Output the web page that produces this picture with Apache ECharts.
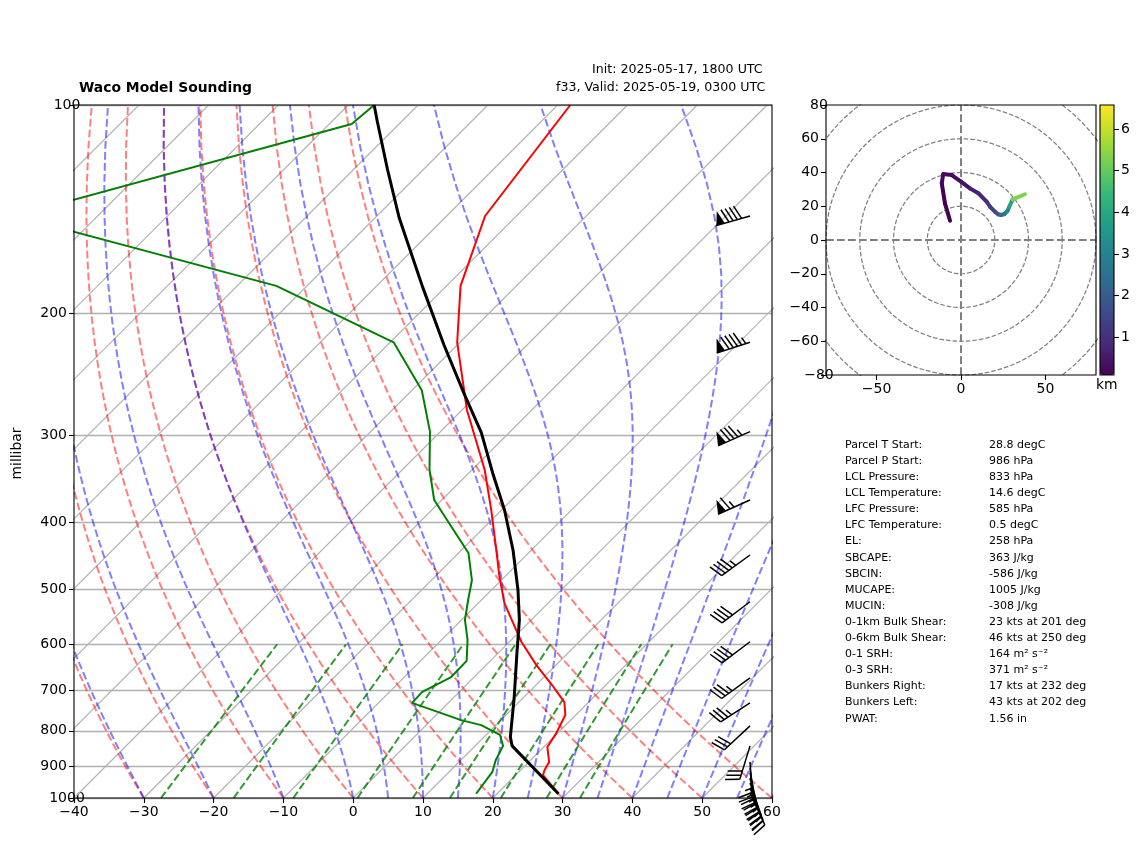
<!DOCTYPE html>
<html>
<head>
<meta charset="utf-8">
<title>Waco Model Sounding</title>
<script src="https://cdn.jsdelivr.net/npm/echarts@6/dist/echarts.min.js"></script>
<style>
    html, body { margin: 0; padding: 0; background: #fff; }
    #main { width: 1142px; height: 844px; }
</style>
</head>
<body>
<div id="main"></div>
<script>
// sounding: pressure (hPa) and temperature (degC)
var tempP = [986, 926.5, 911, 887, 844, 806, 759, 727, 687, 643, 595, 557, 523, 477, 439, 384, 336, 275.5, 220, 182.4, 144.6, 100];
var tempT = [28.8, 23.9, 23.4, 22.9, 20.5, 19.8, 18.5, 16.5, 12.3, 7.2, 1.7, -2.4, -6.3, -11.0, -15.0, -21.5, -28.2, -39.3, -50.4, -58.0, -64.5, -68.2];
var dewP = [986, 917, 882, 841, 811, 785, 772, 729, 703, 669, 634, 591, 553.5, 518, 485, 443, 406, 371.5, 336, 296, 258, 220, 182.4, 144.6, 106.5, 100];
var dewT = [17.0, 16.2, 15.0, 14.0, 12.0, 7.9, 4.3, -5.2, -5.3, -3.3, -3.4, -6.3, -9.5, -11.9, -14.2, -18.6, -24.8, -31.1, -36.1, -41.5, -48.6, -59.5, -84.4, -131.9, -96.8, -96.3];
var parcelP = [986, 841, 817, 715, 618, 553.5, 501, 439, 384, 342, 297, 262, 222, 183, 145.6, 124, 105.8, 100];
var parcelT = [28.8, 15.3, 13.8, 8.6, 2.7, -1.7, -6.2, -12.6, -19.6, -26.2, -34.0, -41.8, -51.9, -63.3, -76.5, -85.1, -93.4, -96.3];

// wind barbs: pressure, direction (deg), speed (kt)
var barbP = [144.6, 220, 296, 371.5, 446, 521, 595, 671, 729, 787, 841, 887, 905, 920, 936, 951, 967, 984];
var barbDir = [254, 252, 246, 246, 234, 233, 233, 234, 237, 227, 197, 176, 172, 168, 165, 161, 158, 155];
var barbSpeed = [90, 95, 85, 65, 45, 40, 40, 35, 35, 30, 30, 25, 25, 25, 25, 25, 25, 25];

// hodograph: u, v (kt) and height (km)
var hodoU = [-6.5, -9.5, -11.4, -10.5, -5.5, 0, 5.3, 10.3, 15.2, 17.2, 20.1, 22.1, 23.7, 25.7, 27.5, 28.6, 30.6, 37.9];
var hodoV = [11.4, 21.7, 33.6, 39.1, 38.5, 34.6, 30.6, 27.7, 22.7, 19.7, 16.8, 15.2, 14.8, 15.4, 17.2, 19.7, 24.1, 27.1];
var hodoH = [0.05, 0.1, 0.2, 0.25, 0.3, 0.4, 0.6, 0.8, 1.0, 1.3, 1.6, 2.0, 2.4, 2.8, 3.2, 3.8, 5.3, 6.4];
var hodoRings = [20, 40, 60, 80, 100];

// tick labels
var pressureTicks = [100, 200, 300, 400, 500, 600, 700, 800, 900, 1000];
var hodoYTicks = [-80, -60, -40, -20, 0, 20, 40, 60, 80];
var hodoXTicks = [-50, 0, 50];
var colorbarTicks = [1, 2, 3, 4, 5, 6];

// background lines of the diagram
var isotherms = [];
for (var t = -140; t <= 60; t += 10) isotherms.push(t);
var dryStarts = [-30, -20, -10, 0, 10, 20, 30, 40, 50, 60];
var moistStarts = [-40, -30, -20, -10, 0, 5, 10, 15, 20, 25, 30, 35, 40, 45, 50, 55, 60];
var mixingRatios = [0.0004, 0.001, 0.002, 0.004, 0.007, 0.01, 0.016, 0.024, 0.032];

// table
var tableNames = ['Parcel T Start:', 'Parcel P Start:', 'LCL Pressure:', 'LCL Temperature:', 'LFC Pressure:', 'LFC Temperature:', 'EL:', 'SBCAPE:', 'SBCIN:', 'MUCAPE:', 'MUCIN:', '0-1km Bulk Shear:', '0-6km Bulk Shear:', '0-1 SRH:', '0-3 SRH:', 'Bunkers Right:', 'Bunkers Left:', 'PWAT:'];
var tableValues = ['28.8 degC', '986 hPa', '833 hPa', '14.6 degC', '585 hPa', '0.5 degC', '258 hPa', '363 J/kg', '-586 J/kg', '1005 J/kg', '-308 J/kg', '23 kts at 201 deg', '46 kts at 250 deg', '164 m\u00b2 s\u207b\u00b2', '371 m\u00b2 s\u207b\u00b2', '17 kts at 232 deg', '43 kts at 202 deg', '1.56 in'];

var viridis = ['#440154', '#482878', '#3e4989', '#31688e', '#26828e', '#1f9e89', '#35b779', '#6ece58', '#b5de2b', '#fde725'];

var FONT = '"DejaVu Sans"';
var SKEW = 99.3;      // x-axis degrees per decade of pressure
var BARB_X = 56.85;   // where the barbs stand on the x axis
var BARB_LEN = 35;

function skewX(T, p) {
    return T + SKEW * Math.log10(1000 / p);
}

function pressureLevels(top) {
    var out = [];
    for (var p = 1000; p >= top; p -= 15) out.push(p);
    if (out[out.length - 1] !== top) out.push(top);
    return out;
}

function satMixing(Tk, p) {
    var es = 6.112 * Math.exp(17.67 * (Tk - 273.15) / (Tk - 29.65));
    return 0.622 * es / (p - es);
}

function moistSlope(Tk, p) {
    var rs = satMixing(Tk, p), Lv = 2.501e6, Rd = 287.05;
    return (Rd * Tk + Lv * rs) / (1005 + Lv * Lv * rs * 0.622 / (Rd * Tk * Tk));
}

// reference curves: these are the diagram's own grid, so they come from the thermodynamics
function dryLine(T0) {
    return pressureLevels(100).map(function (p) {
        return [skewX((T0 + 273.15) * Math.pow(p / 1000, 0.2854) - 273.15, p), p];
    });
}

function moistLine(T0) {
    var levels = pressureLevels(100), Tk = T0 + 273.15, out = [[skewX(T0, 1000), 1000]];
    for (var i = 1; i < levels.length; i++) {
        var p0 = levels[i - 1], dl = Math.log(levels[i] / p0);
        var k1 = moistSlope(Tk, p0);
        var k2 = moistSlope(Tk + k1 * dl / 2, p0 * Math.exp(dl / 2));
        Tk += k2 * dl;
        out.push([skewX(Tk - 273.15, levels[i]), levels[i]]);
    }
    return out;
}

function mixingLine(w) {
    return pressureLevels(600).map(function (p) {
        var l = Math.log(p * w / (0.622 + w) / 6.112);
        return [skewX(243.5 * l / (17.67 - l), p), p];
    });
}

function lineSeries(data, color, width, opacity, type, z) {
    return {
        type: 'line', data: data, xAxisIndex: 0, yAxisIndex: 0,
        showSymbol: false, symbol: 'none', silent: true, animation: false, z: z,
        lineStyle: { color: color, width: width, opacity: opacity, type: type }
    };
}

function soundingLine(pList, tList, color, width) {
    var data = pList.map(function (p, i) { return [skewX(tList[i], p), p]; });
    return lineSeries(data, color, width, 1, 'solid', 5);
}

function renderBarb(params, api) {
    var tip = api.coord([api.value(0), api.value(1)]);
    var rad = api.value(2) * Math.PI / 180, speed = api.value(3);
    var sx = Math.sin(rad), sy = -Math.cos(rad);
    var nx = -sy, ny = sx;
    var bx = tip[0] + BARB_LEN * sx, by = tip[1] + BARB_LEN * sy;
    var h = BARB_LEN * 0.4, w = BARB_LEN * 0.25, gap = BARB_LEN * 0.125;
    var lineStyle = { stroke: '#000', lineWidth: 1.5, fill: null };
    var children = [{ type: 'line', shape: { x1: tip[0], y1: tip[1], x2: bx, y2: by }, style: lineStyle }];
    var left = Math.round(speed / 5) * 5, off = 0;

    function at(o) { return [bx - sx * o, by - sy * o]; }

    while (left >= 50) {
        var a = at(off), c = at(off + w), m = at(off + w / 2);
        children.push({
            type: 'polygon',
            shape: { points: [a, [m[0] + nx * h, m[1] + ny * h], c] },
            style: { fill: '#000' }
        });
        off += w + gap;
        left -= 50;
    }
    var first = true;
    while (left >= 5) {
        var scale = left >= 10 ? 1 : 0.5;
        if (scale === 0.5 && first) off += gap;
        var r = at(off);
        children.push({
            type: 'line',
            shape: {
                x1: r[0], y1: r[1],
                x2: r[0] + nx * h * scale + sx * w / 2 * scale,
                y2: r[1] + ny * h * scale + sy * w / 2 * scale
            },
            style: lineStyle
        });
        off += gap;
        left -= scale === 1 ? 10 : 5;
        first = false;
    }
    return { type: 'group', children: children };
}

function renderHodoSegment(params, api) {
    if (params.dataIndex >= hodoU.length - 1) return null;
    var a = api.coord([api.value(0), api.value(1)]);
    var b = api.coord([api.value(0, params.dataIndex + 1), api.value(1, params.dataIndex + 1)]);
    return {
        type: 'line',
        shape: { x1: a[0], y1: a[1], x2: b[0], y2: b[1] },
        style: { stroke: api.visual('color'), lineWidth: 4, lineCap: 'round', fill: null }
    };
}

function minusLabel(value) {
    return String(value).replace('-', '\u2212');
}

function textItem(x, y, text, size, weight) {
    return {
        type: 'text', x: x, y: y, silent: true, z: 20,
        style: { text: text, fill: '#000', font: (weight || 'normal') + ' ' + size + 'px ' + FONT, textVerticalAlign: 'middle' }
    };
}

function frameItem(x, y, w, h) {
    return {
        type: 'rect', silent: true, z: 8,
        shape: { x: x, y: y, width: w, height: h },
        style: { fill: null, stroke: '#000', lineWidth: 1.1 }
    };
}

document.addEventListener('DOMContentLoaded', function () {
    var chartDom = document.getElementById('main');
    var myChart = echarts.init(chartDom);
    var option;

    var series = [];
    isotherms.forEach(function (t) {
        series.push(lineSeries([[skewX(t, 1000), 1000], [skewX(t, 100), 100]], '#b4b4b4', 1.2, 1, 'solid', 1));
    });
    var dash = [7.7, 3.3];
    dryStarts.forEach(function (t) { series.push(lineSeries(dryLine(t), '#ff0000', 2, 0.5, dash, 2)); });
    moistStarts.forEach(function (t) { series.push(lineSeries(moistLine(t), '#0000ff', 2, 0.5, dash, 2)); });
    mixingRatios.forEach(function (w) { series.push(lineSeries(mixingLine(w), '#008000', 2, 0.8, dash, 2)); });
    series.push(soundingLine(tempP, tempT, '#ff0000', 2));
    series.push(soundingLine(dewP, dewT, '#008000', 2));
    series.push(soundingLine(parcelP, parcelT, '#000', 3));

    series.push({
        type: 'custom', xAxisIndex: 0, yAxisIndex: 0, z: 10, silent: true, animation: false,
        renderItem: renderBarb,
        encode: { x: 0, y: 1 },
        data: barbP.map(function (p, i) { return [BARB_X, p, barbDir[i], barbSpeed[i]]; })
    });

    // hodograph background
    hodoRings.forEach(function (r) {
        var ring = [];
        for (var a = 0; a <= 360; a += 3) {
            ring.push([r * Math.cos(a * Math.PI / 180), r * Math.sin(a * Math.PI / 180)]);
        }
        series.push({
            type: 'line', data: ring, xAxisIndex: 1, yAxisIndex: 1, symbol: 'none', silent: true, animation: false, z: 2,
            lineStyle: { color: '#808080', width: 1.25, type: [4.6, 2] }
        });
    });
    [[[-80, 0], [80, 0]], [[0, -80], [0, 80]]].forEach(function (d) {
        series.push({
            type: 'line', data: d, xAxisIndex: 1, yAxisIndex: 1, symbol: 'none', silent: true, animation: false, z: 2,
            lineStyle: { color: '#808080', width: 2, type: [7.7, 3.3] }
        });
    });
    var hodoIndex = series.length;
    series.push({
        type: 'custom', xAxisIndex: 1, yAxisIndex: 1, z: 5, silent: true, animation: false, clip: true,
        renderItem: renderHodoSegment,
        encode: { x: 0, y: 1 },
        data: hodoU.map(function (u, i) { return [u, hodoV[i], hodoH[i]]; })
    });

    var labelStyle = { color: '#000', fontFamily: FONT, fontSize: 14, margin: 7 };
    var tickStyle = { lineStyle: { color: '#000', width: 1.1 }, length: 5, inside: false };
    var hiddenLine = { show: false, onZero: false };
    var graphics = [
        frameItem(74, 105, 698, 693),
        frameItem(826, 105, 270, 270),
        frameItem(1100, 105, 14, 270),
        textItem(79, 88, 'Waco Model Sounding', 13.9, 'bold'),
        textItem(592, 70, 'Init: 2025-05-17, 1800 UTC', 12.6),
        textItem(556, 88, 'f33, Valid: 2025-05-19, 0300 UTC', 12.6),
        textItem(1096, 385, 'km', 13.9),
        {
            type: 'text', x: 17, y: 453.5, rotation: Math.PI / 2, silent: true, z: 20,
            style: { text: 'millibar', fill: '#000', font: '13.9px ' + FONT, align: 'center', verticalAlign: 'middle' }
        }
    ];
    tableNames.forEach(function (name, i) {
        graphics.push(textItem(845, 445 + i * 16.1, name, 11));
        graphics.push(textItem(989, 445 + i * 16.1, tableValues[i], 11));
    });

    option = {
        backgroundColor: '#fff',
        animation: false,
        textStyle: { fontFamily: FONT },
        grid: [
            { left: 74, top: 105, width: 698, height: 693, outerBoundsMode: 'none' },
            { left: 826, top: 105, width: 270, height: 270, outerBoundsMode: 'none' },
            { left: 1100, top: 105, width: 14, height: 270, outerBoundsMode: 'none' }
        ],
        xAxis: [
            {
                gridIndex: 0, type: 'value', min: -40, max: 60, interval: 10,
                axisLine: hiddenLine, splitLine: { show: false },
                axisTick: tickStyle,
                axisLabel: Object.assign({ formatter: minusLabel, hideOverlap: false, showMinLabel: true, showMaxLabel: true, alignMinLabel: 'center', alignMaxLabel: 'center' }, labelStyle)
            },
            {
                gridIndex: 1, type: 'value', min: -80, max: 80,
                axisLine: hiddenLine, splitLine: { show: false },
                axisTick: Object.assign({ customValues: hodoXTicks }, tickStyle),
                axisLabel: Object.assign({ customValues: hodoXTicks, formatter: minusLabel }, labelStyle)
            },
            { gridIndex: 2, type: 'value', min: 0, max: 1, show: false }
        ],
        yAxis: [
            {
                gridIndex: 0, type: 'log', logBase: 10, min: 100, max: 1000, inverse: true,
                axisLine: hiddenLine,
                axisTick: Object.assign({ customValues: pressureTicks }, tickStyle),
                axisLabel: Object.assign({ customValues: pressureTicks, formatter: String, showMinLabel: true, showMaxLabel: true, alignMinLabel: 'center', alignMaxLabel: 'center' }, labelStyle),
                minorTick: { show: false },
                splitLine: { show: true, lineStyle: { color: '#b0b0b0', width: 1.4 } }
            },
            {
                gridIndex: 1, type: 'value', min: -80, max: 80, interval: 20,
                axisLine: hiddenLine, splitLine: { show: false },
                axisTick: tickStyle,
                axisLabel: Object.assign({ formatter: minusLabel, showMinLabel: true, showMaxLabel: true, alignMinLabel: 'center', alignMaxLabel: 'center' }, labelStyle)
            },
            {
                gridIndex: 2, type: 'value', min: 0.09, max: 6.58, position: 'right',
                axisLine: hiddenLine, splitLine: { show: false },
                axisTick: Object.assign({ customValues: colorbarTicks }, tickStyle),
                axisLabel: Object.assign({ customValues: colorbarTicks }, labelStyle)
            }
        ],
        visualMap: {
            type: 'continuous', seriesIndex: hodoIndex, dimension: 2,
            min: 0.09, max: 6.58, left: 1100, top: 105, itemWidth: 14, itemHeight: 270,
            padding: 0, text: null, calculable: false, realtime: false, silent: true,
            inRange: { color: viridis }
        },
        graphic: { elements: graphics },
        series: series
    };

    option && myChart.setOption(option);
});
</script>
</body>
</html>
